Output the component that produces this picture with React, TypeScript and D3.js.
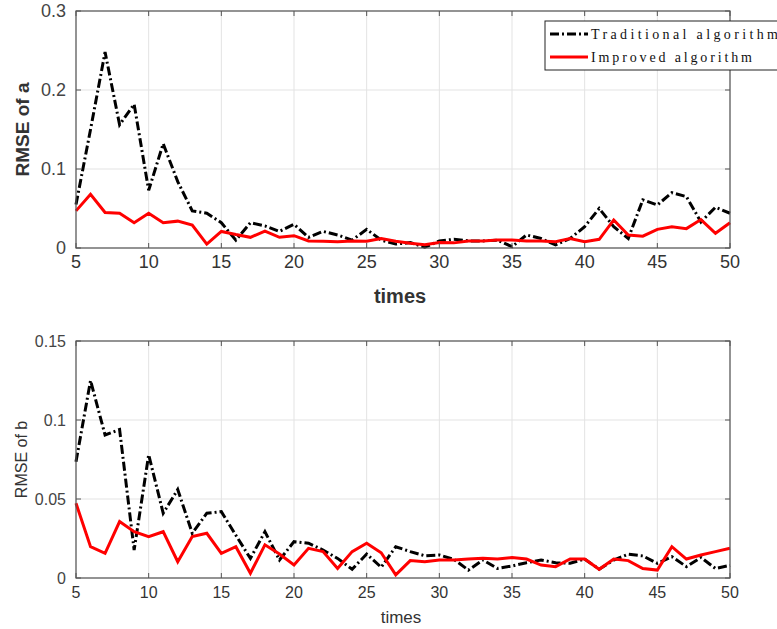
import * as d3 from "d3";

const times = d3.range(5, 51);

// RMSE of a
const tradA = [
  0.055, 0.15, 0.248, 0.156, 0.182, 0.073, 0.132, 0.084, 0.047, 0.044,
  0.032, 0.01, 0.032, 0.028, 0.021, 0.03, 0.0135, 0.021, 0.0165, 0.01,
  0.0236, 0.01, 0.005, 0.0068, 0.001, 0.009, 0.011, 0.009, 0.009, 0.01,
  0.0017, 0.0165, 0.012, 0.004, 0.012, 0.027, 0.05, 0.027, 0.012, 0.061,
  0.0544, 0.07, 0.065, 0.033, 0.0515, 0.044,
];
const impA = [
  0.047, 0.068, 0.045, 0.044, 0.032, 0.044, 0.032, 0.034, 0.029, 0.005,
  0.021, 0.017, 0.0135, 0.0215, 0.0135, 0.0156, 0.009, 0.0085, 0.008, 0.009,
  0.0085, 0.012, 0.0085, 0.006, 0.004, 0.007, 0.0065, 0.009, 0.009, 0.01,
  0.01, 0.009, 0.009, 0.008, 0.012, 0.008, 0.011, 0.0355, 0.0165, 0.015,
  0.0236, 0.027, 0.0245, 0.036, 0.0186, 0.032,
];

// RMSE of b
const tradB = [
  0.0736, 0.125, 0.0905, 0.094, 0.0177, 0.078, 0.041, 0.056, 0.0283, 0.041,
  0.042, 0.027, 0.0124, 0.0293, 0.0114, 0.023, 0.022, 0.0177, 0.0124, 0.0055,
  0.0152, 0.0068, 0.0198, 0.0167, 0.0141, 0.0146, 0.0118, 0.005, 0.0114, 0.006,
  0.0076, 0.0097, 0.0114, 0.0097, 0.0093, 0.012, 0.0055, 0.0114, 0.015, 0.014,
  0.0093, 0.0135, 0.0072, 0.013, 0.006, 0.008,
];
const impB = [
  0.0473, 0.0198, 0.0156, 0.0357, 0.0293, 0.0262, 0.0293, 0.0103, 0.0262, 0.0283,
  0.0156, 0.0198, 0.003, 0.021, 0.0152, 0.0082, 0.0188, 0.0167, 0.0061, 0.0167,
  0.022, 0.016, 0.002, 0.011, 0.0103, 0.0114, 0.0114, 0.012, 0.0125, 0.012,
  0.013, 0.012, 0.0082, 0.0072, 0.012, 0.012, 0.0055, 0.012, 0.011, 0.006,
  0.005, 0.0198, 0.012, 0.0146, 0.0167, 0.0188,
];

const xTicks = [5, 10, 15, 20, 25, 30, 35, 40, 45, 50];
const yTicksA = [0, 0.1, 0.2, 0.3];
const yTicksB = [0, 0.05, 0.1, 0.15];
const legendLabels = ["Traditional algorithm", "Improved algorithm"];

const left = 76;
const right = 730;

function Panel({ top, bottom, yMax, yTicks, trad, imp, yLabel, bold, tickSize, labelSize }) {
  const x = d3.scaleLinear().domain([5, 50]).range([left, right]);
  const y = d3.scaleLinear().domain([0, yMax]).range([bottom, top]);
  const line = (vals) =>
    d3
      .line<number>()
      .x((_, i) => x(times[i]))
      .y((d) => y(d))(vals);
  const fmt = (v) => (v === 0 ? "0" : String(v));
  return (
    <g>
      {xTicks.map((t) => (
        <line key={"gx" + t} x1={x(t)} x2={x(t)} y1={top} y2={bottom} stroke="#e3e3e3" strokeWidth={1} />
      ))}
      {yTicks.map((t) => (
        <line key={"gy" + t} x1={left} x2={right} y1={y(t)} y2={y(t)} stroke="#e3e3e3" strokeWidth={1} />
      ))}
      <path d={line(trad)} fill="none" stroke="#000" strokeWidth={3} strokeDasharray="9,3,2,3" />
      <path d={line(imp)} fill="none" stroke="#ff0000" strokeWidth={3} />
      <rect x={left} y={top} width={right - left} height={bottom - top} fill="none" stroke="#555" strokeWidth={1.2} />
      {xTicks.map((t) => (
        <g key={"tx" + t}>
          <line x1={x(t)} x2={x(t)} y1={bottom} y2={bottom - 5} stroke="#555" />
          <line x1={x(t)} x2={x(t)} y1={top} y2={top + 5} stroke="#555" />
          <text x={x(t)} y={bottom + 20} textAnchor="middle" fontSize={tickSize} fill="#333">
            {t}
          </text>
        </g>
      ))}
      {yTicks.map((t) => (
        <g key={"ty" + t}>
          <line x1={left} x2={left + 5} y1={y(t)} y2={y(t)} stroke="#555" />
          <line x1={right} x2={right - 5} y1={y(t)} y2={y(t)} stroke="#555" />
          <text x={left - 10} y={y(t) + 6} textAnchor="end" fontSize={tickSize} fill="#444">
            {fmt(t)}
          </text>
        </g>
      ))}
      <text
        transform={`translate(${bold ? 29 : 27},${(top + bottom) / 2}) rotate(-90)`}
        textAnchor="middle"
        fontSize={labelSize}
        fontWeight={bold ? "bold" : "normal"}
        fill="#333"
      >
        {yLabel}
      </text>
    </g>
  );
}

export default function App() {
  return (
    <svg width={777} height={629} style={{ display: "block", position: "absolute", left: 0, top: 0 }} fontFamily="'Liberation Sans', Arial, sans-serif">
      <rect width={777} height={629} fill="#fff" />
      <Panel top={11} bottom={248} yMax={0.3} yTicks={yTicksA} trad={tradA} imp={impA} yLabel="RMSE of a" bold tickSize={18} labelSize={19} />
      <text x={400} y={303} textAnchor="middle" fontSize={20} fontWeight="bold" fill="#333">
        times
      </text>
      <Panel top={341} bottom={578} yMax={0.15} yTicks={yTicksB} trad={tradB} imp={impB} yLabel="RMSE of b" bold={false} tickSize={16} labelSize={16} />
      <text x={401} y={623} textAnchor="middle" fontSize={17} fill="#333">
        times
      </text>
      <g>
        <rect x={545} y={21} width={240} height={49} fill="#fff" stroke="#222" strokeWidth={1} />
        <line x1={550} x2={588} y1={34} y2={34} stroke="#000" strokeWidth={3} strokeDasharray="9,3,2,3" />
        <line x1={550} x2={588} y1={57} y2={57} stroke="#ff0000" strokeWidth={3} />
        <text x={591} y={39} fontFamily="'Liberation Serif', serif" fontSize={14} textLength={187} lengthAdjust="spacing" fill="#111">
          {legendLabels[0]}
        </text>
        <text x={591} y={62} fontFamily="'Liberation Serif', serif" fontSize={14} textLength={161} lengthAdjust="spacing" fill="#111">
          {legendLabels[1]}
        </text>
      </g>
    </svg>
  );
}
